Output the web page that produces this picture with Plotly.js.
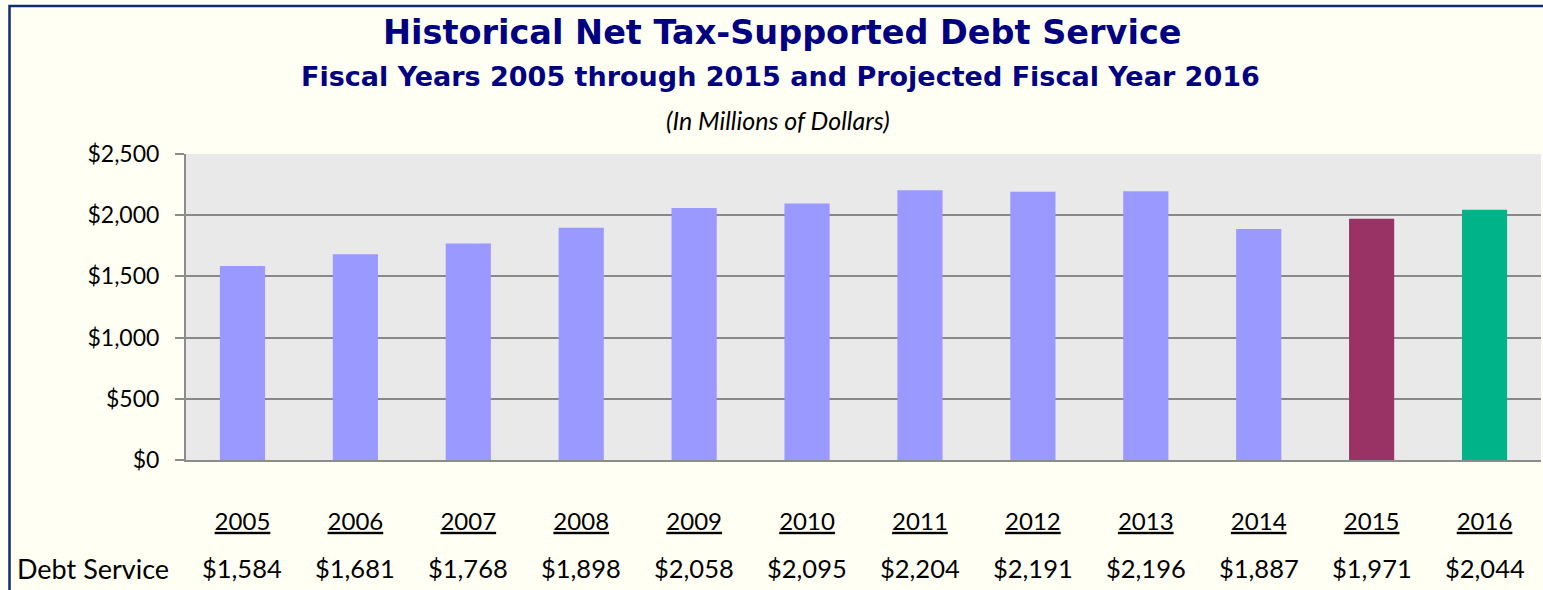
<!DOCTYPE html>
<html><head><meta charset="utf-8">
<script src="https://cdn.plot.ly/plotly-3.0.1.min.js"></script>
<style>html,body{margin:0;padding:0;background:#FFFFF4;}#chart{width:1543px;height:590px;}</style>
</head><body><div id="chart"></div>
<script>
const years = ['2005','2006','2007','2008','2009','2010','2011','2012','2013','2014','2015','2016'];
const debtService = [1584,1681,1768,1898,2058,2095,2204,2191,2196,1887,1971,2044];
const yTickVals = [0,500,1000,1500,2000,2500];
const rowLabel = 'Debt Service';

const historicalColor = '#9999FF', currentColor = '#993366', projectedColor = '#00B388';
const barColors = years.map(y => y === '2016' ? projectedColor : (y === '2015' ? currentColor : historicalColor));
const fmt = v => '$' + v.toLocaleString('en-US');

const W = 1543, H = 590, L = 186, R = 2, T = 154, B = 130;
const pw = W - L - R, ph = H - T - B;
const px = x => (x - L) / pw;
const py = y => (H - B - y) / ph;

const annotations = [
  {text:'<b>Historical Net Tax-Supported Debt Service</b>', xref:'paper', yref:'paper', x:px(782), y:py(32), xanchor:'center', yanchor:'middle', showarrow:false, font:{family:'DejaVu Sans', size:33.5, color:'#000080'}},
  {text:'<b>Fiscal Years 2005 through 2015 and Projected Fiscal Year 2016</b>', xref:'paper', yref:'paper', x:px(780), y:py(76), xanchor:'center', yanchor:'middle', showarrow:false, font:{family:'DejaVu Sans', size:27, color:'#000080'}},
  {text:'<i>(In Millions of Dollars)</i>', xref:'paper', yref:'paper', x:px(778), y:py(120), xanchor:'center', yanchor:'middle', showarrow:false, font:{family:'Lato', size:25, color:'#000000'}},
  {text:rowLabel, xref:'paper', yref:'paper', x:px(15), y:py(568), xanchor:'left', yanchor:'middle', showarrow:false, font:{family:'Lato', size:27, color:'#000000'}}
];
years.forEach((yr, i) => {
  annotations.push({text:fmt(debtService[i]), xref:'x', yref:'paper', x:i, y:py(568), xanchor:'center', yanchor:'middle', showarrow:false, font:{family:'Lato', size:25.5, color:'#000000'}});
});

const trace = {
  type:'bar', x:years, y:debtService,
  marker:{color:barColors, line:{width:0}},
  width:0.4, hoverinfo:'x+y'
};

const layout = {
  width:W, height:H,
  margin:{l:L, r:R, t:T, b:B, pad:0},
  paper_bgcolor:'#FFFFF4', plot_bgcolor:'#E9E9E9',
  showlegend:false,
  xaxis:{type:'category', tickvals:years, ticktext:years.map(y => '<u>'+y+'</u>'),
    showgrid:false, showline:true, linecolor:'#8C8C8C', linewidth:2, ticks:'',
    ticklabelstandoff:39, tickfont:{family:'Lato', size:24, color:'#000000'}, range:[-0.5, 11.5], fixedrange:true},
  yaxis:{range:[0,2500], tickvals:yTickVals, ticktext:yTickVals.map(fmt), showgrid:true, gridcolor:'#888888', gridwidth:2,
    showline:true, linecolor:'#8C8C8C', linewidth:2, ticks:'outside', ticklen:9, tickcolor:'#8C8C8C', tickwidth:2,
    ticklabelstandoff:11, tickfont:{family:'Lato', size:23, color:'#000000'}, zeroline:false, fixedrange:true},
  annotations: annotations,
  shapes:[{type:'rect', xref:'paper', yref:'paper', x0:px(9.5), x1:px(1600), y0:py(700), y1:py(6), line:{color:'#0D2C74', width:2.5}, fillcolor:'rgba(0,0,0,0)', layer:'above'}]
};
Plotly.newPlot('chart', [trace], layout, {displayModeBar:false, staticPlot:true});
</script></body></html>
